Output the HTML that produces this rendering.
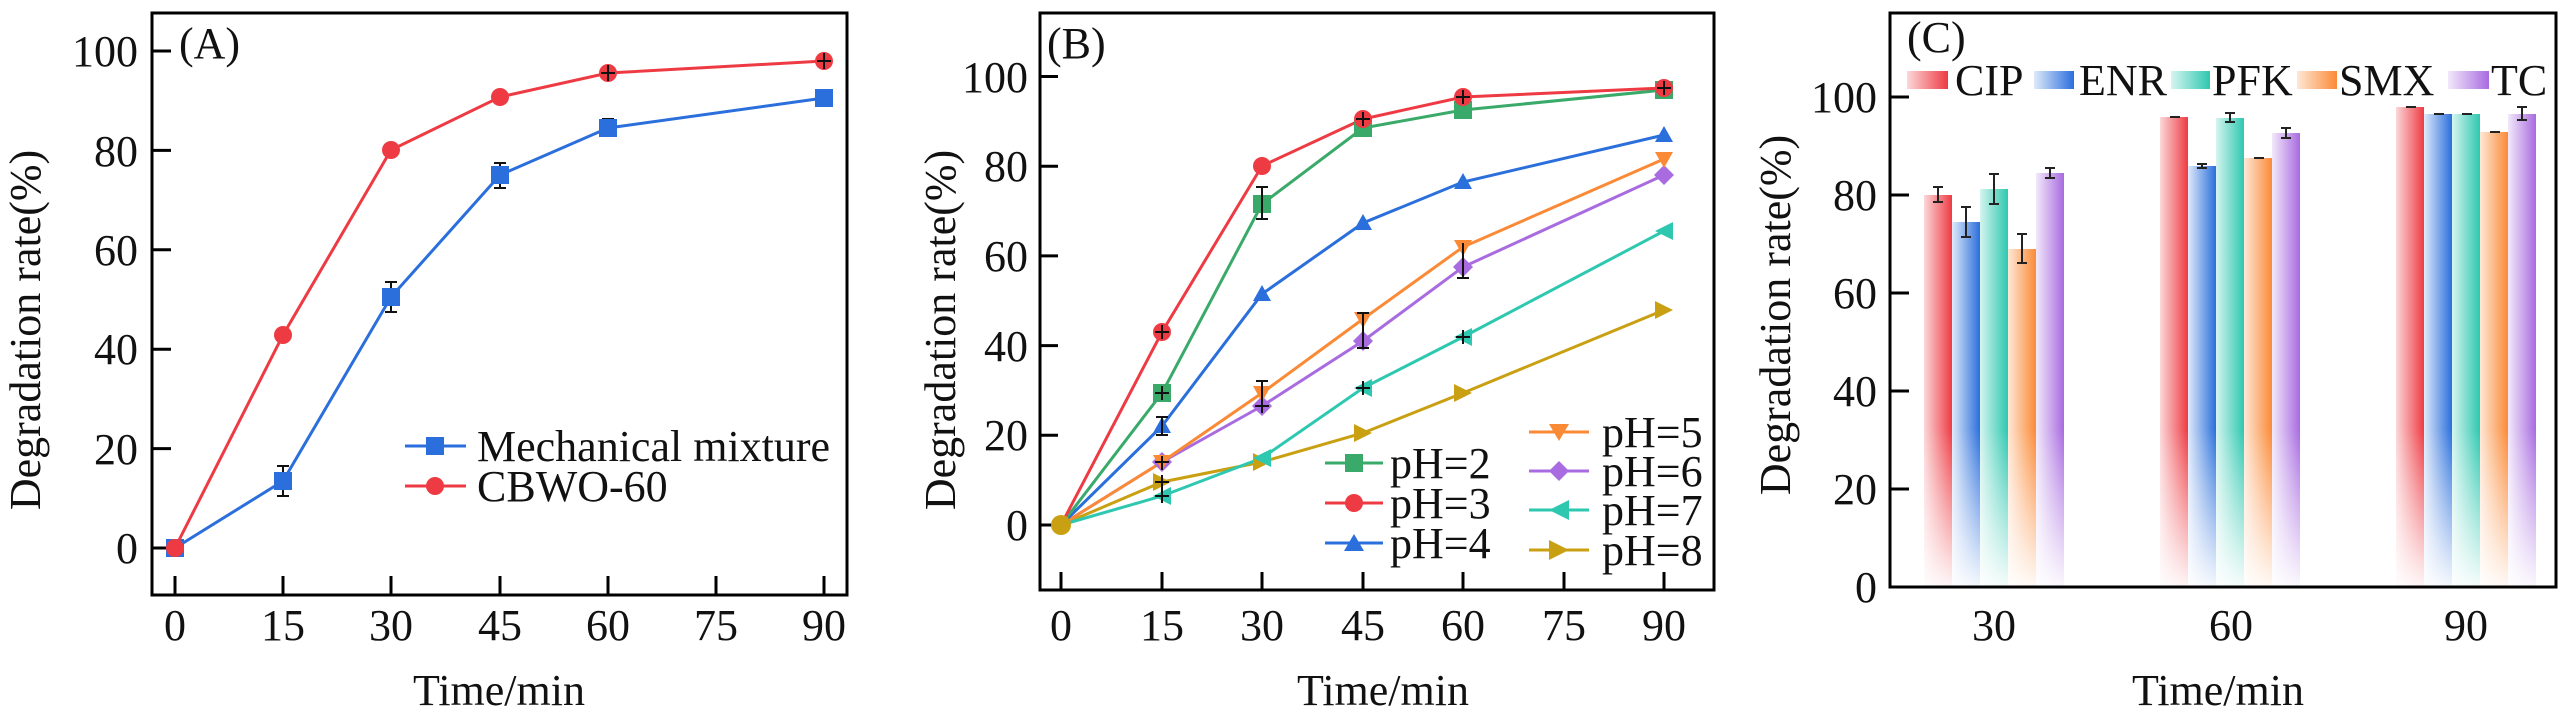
<!DOCTYPE html>
<html><head><meta charset="utf-8"><style>
html,body{margin:0;padding:0;background:#fff}
svg{display:block}
text{font-family:"Liberation Serif",serif;fill:#111}
</style></head><body>
<svg width="2567" height="724" viewBox="0 0 2567 724" xmlns="http://www.w3.org/2000/svg">
<defs>
<linearGradient id="fadeV" x1="0" y1="0" x2="0" y2="1"><stop offset="0.45" stop-color="#fff" stop-opacity="0"/><stop offset="1" stop-color="#fff" stop-opacity="0.95"/></linearGradient>
<linearGradient id="gCIP" x1="0" x2="1"><stop offset="0" stop-color="#ee3b43" stop-opacity="0.2"/><stop offset="1" stop-color="#ee3b43"/></linearGradient>
<linearGradient id="gENR" x1="0" x2="1"><stop offset="0" stop-color="#2a6fdc" stop-opacity="0.15"/><stop offset="1" stop-color="#2a6fdc"/></linearGradient>
<linearGradient id="gPFK" x1="0" x2="1"><stop offset="0" stop-color="#2ec8b0" stop-opacity="0.2"/><stop offset="1" stop-color="#2ec8b0"/></linearGradient>
<linearGradient id="gSMX" x1="0" x2="1"><stop offset="0" stop-color="#fb8a36" stop-opacity="0.2"/><stop offset="1" stop-color="#fb8a36"/></linearGradient>
<linearGradient id="gTC" x1="0" x2="1"><stop offset="0" stop-color="#a86be0" stop-opacity="0.15"/><stop offset="1" stop-color="#a86be0"/></linearGradient>
</defs>

<!-- ===== Panel A ===== -->
<g font-size="44">
<rect x="152" y="13" width="695" height="582" fill="none" stroke="#000" stroke-width="3"/>
<g stroke="#000" stroke-width="3">
<line x1="152" y1="548" x2="171" y2="548"/><line x1="152" y1="448.6" x2="171" y2="448.6"/><line x1="152" y1="349.2" x2="171" y2="349.2"/><line x1="152" y1="249.8" x2="171" y2="249.8"/><line x1="152" y1="150.4" x2="171" y2="150.4"/><line x1="152" y1="51" x2="171" y2="51"/>
<line x1="175" y1="595" x2="175" y2="576"/><line x1="283" y1="595" x2="283" y2="576"/><line x1="391" y1="595" x2="391" y2="576"/><line x1="500" y1="595" x2="500" y2="576"/><line x1="608" y1="595" x2="608" y2="576"/><line x1="716" y1="595" x2="716" y2="576"/><line x1="824" y1="595" x2="824" y2="576"/>
</g>
<g text-anchor="end"><text x="138" y="563">0</text><text x="138" y="464">20</text><text x="138" y="364">40</text><text x="138" y="265">60</text><text x="138" y="166">80</text><text x="138" y="66">100</text></g>
<g text-anchor="middle"><text x="175" y="640">0</text><text x="283" y="640">15</text><text x="391" y="640">30</text><text x="500" y="640">45</text><text x="608" y="640">60</text><text x="716" y="640">75</text><text x="824" y="640">90</text>
<text x="499" y="705">Time/min</text>
<text transform="translate(40,330) rotate(-90)">Degradation rate(%)</text></g>
<text x="179" y="58">(A)</text>
<g stroke="#111" stroke-width="2">
<line x1="283" y1="466" x2="283" y2="496"/><line x1="277" y1="466" x2="289" y2="466"/><line x1="277" y1="496" x2="289" y2="496"/>
<line x1="391" y1="282" x2="391" y2="312"/><line x1="385" y1="282" x2="397" y2="282"/><line x1="385" y1="312" x2="397" y2="312"/>
<line x1="500" y1="163" x2="500" y2="188"/><line x1="494" y1="163" x2="506" y2="163"/><line x1="494" y1="188" x2="506" y2="188"/>
<line x1="608" y1="119" x2="608" y2="134"/><line x1="602" y1="119" x2="614" y2="119"/><line x1="602" y1="134" x2="614" y2="134"/>
</g>
<polyline points="175,548 283,481 391,297 500,175 608,128 824,98" fill="none" stroke="#2a6fdc" stroke-width="3"/>
<g fill="#2a6fdc"><rect x="166" y="539" width="18" height="18"/><rect x="274" y="472" width="18" height="18"/><rect x="382" y="288" width="18" height="18"/><rect x="491" y="166" width="18" height="18"/><rect x="599" y="119" width="18" height="18"/><rect x="815" y="89" width="18" height="18"/></g>
<polyline points="175,548 283,335 391,150 500,97 608,73 824,61" fill="none" stroke="#ee3b43" stroke-width="3"/>
<g fill="#ee3b43"><circle cx="175" cy="548" r="9"/><circle cx="283" cy="335" r="9"/><circle cx="391" cy="150" r="9"/><circle cx="500" cy="97" r="9"/><circle cx="608" cy="73" r="9"/><circle cx="824" cy="61" r="9"/></g>
<g stroke="#111" stroke-width="2"><line x1="608" y1="65" x2="608" y2="81"/><line x1="601" y1="73" x2="615" y2="73"/><line x1="824" y1="53" x2="824" y2="69"/><line x1="817" y1="61" x2="831" y2="61"/></g>
<line x1="405" y1="446" x2="466" y2="446" stroke="#2a6fdc" stroke-width="3"/><rect x="426" y="437" width="18" height="18" fill="#2a6fdc"/>
<line x1="405" y1="486" x2="466" y2="486" stroke="#ee3b43" stroke-width="3"/><circle cx="435" cy="486" r="9" fill="#ee3b43"/>
<text x="477" y="461">Mechanical mixture</text><text x="477" y="501">CBWO-60</text>
</g>

<!-- ===== Panel B ===== -->
<g font-size="44">
<rect x="1040" y="13" width="674" height="577" fill="none" stroke="#000" stroke-width="3"/>
<g stroke="#000" stroke-width="3">
<line x1="1040" y1="525" x2="1058" y2="525"/><line x1="1040" y1="435.3" x2="1058" y2="435.3"/><line x1="1040" y1="345.6" x2="1058" y2="345.6"/><line x1="1040" y1="255.9" x2="1058" y2="255.9"/><line x1="1040" y1="166.2" x2="1058" y2="166.2"/><line x1="1040" y1="76.5" x2="1058" y2="76.5"/>
<line x1="1061" y1="590" x2="1061" y2="572"/><line x1="1162" y1="590" x2="1162" y2="572"/><line x1="1262" y1="590" x2="1262" y2="572"/><line x1="1363" y1="590" x2="1363" y2="572"/><line x1="1463" y1="590" x2="1463" y2="572"/><line x1="1564" y1="590" x2="1564" y2="572"/><line x1="1664" y1="590" x2="1664" y2="572"/>
</g>
<g text-anchor="end"><text x="1028" y="540">0</text><text x="1028" y="450">20</text><text x="1028" y="361">40</text><text x="1028" y="271">60</text><text x="1028" y="181">80</text><text x="1028" y="92">100</text></g>
<g text-anchor="middle"><text x="1061" y="640">0</text><text x="1162" y="640">15</text><text x="1262" y="640">30</text><text x="1363" y="640">45</text><text x="1463" y="640">60</text><text x="1564" y="640">75</text><text x="1664" y="640">90</text>
<text x="1383" y="705">Time/min</text>
<text transform="translate(955,330) rotate(-90)">Degradation rate(%)</text></g>
<text x="1047" y="58">(B)</text>
<g fill="none" stroke-width="3">
<polyline stroke="#c9a012" points="1061,525 1162,482 1262,462 1363,433 1463,393 1664,310"/>
<polyline stroke="#2ec8b0" points="1061,525 1162,496 1262,458 1363,388 1463,337 1664,231"/>
<polyline stroke="#a86be0" points="1061,525 1162,462 1262,406 1363,341 1463,267 1664,175"/>
<polyline stroke="#fb8a36" points="1061,525 1162,462 1262,393 1363,319 1463,247 1664,159"/>
<polyline stroke="#2a6fdc" points="1061,525 1162,426 1262,294 1363,223 1463,182 1664,135"/>
<polyline stroke="#3aaa6a" points="1061,525 1162,393 1262,204 1363,128 1463,110 1664,90"/>
<polyline stroke="#ee3b43" points="1061,525 1162,332 1262,166 1363,119 1463,97 1664,88"/>
</g>
<g fill="#c9a012"><path d="M1153,473 L1171,482 L1153,491Z"/><path d="M1253,453 L1271,462 L1253,471Z"/><path d="M1354,424 L1372,433 L1354,442Z"/><path d="M1454,384 L1472,393 L1454,402Z"/><path d="M1655,301 L1673,310 L1655,319Z"/></g>
<g fill="#2ec8b0"><path d="M1171,487 L1153,496 L1171,505Z"/><path d="M1271,449 L1253,458 L1271,467Z"/><path d="M1372,379 L1354,388 L1372,397Z"/><path d="M1472,328 L1454,337 L1472,346Z"/><path d="M1673,222 L1655,231 L1673,240Z"/></g>
<g fill="#a86be0"><path d="M1162,452 L1172,462 L1162,472 L1152,462Z"/><path d="M1262,396 L1272,406 L1262,416 L1252,406Z"/><path d="M1363,331 L1373,341 L1363,351 L1353,341Z"/><path d="M1463,257 L1473,267 L1463,277 L1453,267Z"/><path d="M1664,165 L1674,175 L1664,185 L1654,175Z"/></g>
<g fill="#fb8a36"><path d="M1153,455 L1171,455 L1162,471Z"/><path d="M1253,386 L1271,386 L1262,402Z"/><path d="M1354,312 L1372,312 L1363,328Z"/><path d="M1454,240 L1472,240 L1463,256Z"/><path d="M1655,152 L1673,152 L1664,168Z"/></g>
<g fill="#2a6fdc"><path d="M1153,433 L1171,433 L1162,417Z"/><path d="M1253,301 L1271,301 L1262,285Z"/><path d="M1354,230 L1372,230 L1363,214Z"/><path d="M1454,189 L1472,189 L1463,173Z"/><path d="M1655,142 L1673,142 L1664,126Z"/></g>
<g fill="#3aaa6a"><rect x="1153" y="384" width="18" height="18"/><rect x="1253" y="195" width="18" height="18"/><rect x="1354" y="119" width="18" height="18"/><rect x="1454" y="101" width="18" height="18"/><rect x="1655" y="81" width="18" height="18"/></g>
<g fill="#ee3b43"><circle cx="1162" cy="332" r="9"/><circle cx="1262" cy="166" r="9"/><circle cx="1363" cy="119" r="9"/><circle cx="1463" cy="97" r="9"/><circle cx="1664" cy="88" r="9"/></g>
<circle cx="1061" cy="525" r="10" fill="#c9a012"/>
<g stroke="#111" stroke-width="2" fill="none">
<path d="M1262,187 v32 M1256,187 h12 M1256,219 h12"/>
<path d="M1162,417 v18 M1156,417 h12 M1156,435 h12"/>
<path d="M1262,381 v22 M1256,381 h12"/>
<path d="M1363,313 v35 M1357,313 h12 M1357,348 h12"/>
<path d="M1463,243 v35 M1457,278 h12"/>
<path d="M1162,325 v14 M1155,332 h14 M1162,386 v14 M1155,393 h14 M1363,112 v14 M1356,119 h14 M1463,90 v14 M1456,97 h14 M1664,81 v14 M1657,88 h14"/>
<path d="M1162,456 v14 M1155,462 h14 M1162,475 v14 M1155,482 h14 M1162,489 v14 M1155,496 h14 M1363,381 v14 M1356,388 h14 M1463,330 v14 M1456,337 h14 M1262,399 v14 M1255,406 h14"/>
</g>
<g stroke-width="3"><line x1="1325" y1="463" x2="1383" y2="463" stroke="#3aaa6a"/><line x1="1325" y1="503" x2="1383" y2="503" stroke="#ee3b43"/><line x1="1325" y1="543" x2="1383" y2="543" stroke="#2a6fdc"/>
<line x1="1529" y1="432" x2="1589" y2="432" stroke="#fb8a36"/><line x1="1529" y1="471" x2="1589" y2="471" stroke="#a86be0"/><line x1="1529" y1="510" x2="1589" y2="510" stroke="#2ec8b0"/><line x1="1529" y1="550" x2="1589" y2="550" stroke="#c9a012"/></g>
<rect x="1345" y="454" width="18" height="18" fill="#3aaa6a"/><circle cx="1354" cy="503" r="9" fill="#ee3b43"/><path d="M1344,551 L1364,551 L1354,534Z" fill="#2a6fdc"/>
<path d="M1549,424 L1569,424 L1559,441Z" fill="#fb8a36"/><path d="M1559,461 L1569,471 L1559,481 L1549,471Z" fill="#a86be0"/><path d="M1569,500 L1549,510 L1569,520Z" fill="#2ec8b0"/><path d="M1549,540 L1569,550 L1549,560Z" fill="#c9a012"/>
<text x="1390" y="478">pH=2</text><text x="1390" y="518">pH=3</text><text x="1390" y="558">pH=4</text>
<text x="1602" y="447">pH=5</text><text x="1602" y="486">pH=6</text><text x="1602" y="525">pH=7</text><text x="1602" y="565">pH=8</text>
</g>

<!-- ===== Panel C ===== -->
<g font-size="44">
<rect x="1924" y="195" width="28" height="392" fill="url(#gCIP)"/>
<rect x="1952" y="222" width="28" height="365" fill="url(#gENR)"/>
<rect x="1980" y="189" width="28" height="398" fill="url(#gPFK)"/>
<rect x="2008" y="249" width="28" height="338" fill="url(#gSMX)"/>
<rect x="2036" y="173" width="28" height="414" fill="url(#gTC)"/>
<rect x="2160" y="117" width="28" height="470" fill="url(#gCIP)"/>
<rect x="2188" y="166" width="28" height="421" fill="url(#gENR)"/>
<rect x="2216" y="118" width="28" height="469" fill="url(#gPFK)"/>
<rect x="2244" y="158" width="28" height="429" fill="url(#gSMX)"/>
<rect x="2272" y="133" width="28" height="454" fill="url(#gTC)"/>
<rect x="2396" y="107" width="28" height="480" fill="url(#gCIP)"/>
<rect x="2424" y="114" width="28" height="473" fill="url(#gENR)"/>
<rect x="2452" y="114" width="28" height="473" fill="url(#gPFK)"/>
<rect x="2480" y="132" width="28" height="455" fill="url(#gSMX)"/>
<rect x="2508" y="114" width="28" height="473" fill="url(#gTC)"/>
<rect x="1890" y="300" width="666" height="287" fill="url(#fadeV)"/>
<g stroke="#222" stroke-width="2" fill="none">
<path d="M1938,187 v15 M1933,187 h10 M1933,202 h10"/>
<path d="M1966,207 v30 M1961,207 h10 M1961,237 h10"/>
<path d="M1994,174 v30 M1989,174 h10 M1989,204 h10"/>
<path d="M2022,234 v29 M2017,234 h10 M2017,263 h10"/>
<path d="M2050,168 v10 M2045,168 h10 M2045,178 h10"/>
<path d="M2202,164 v4 M2197,164 h10 M2197,168 h10"/>
<path d="M2230,113 v9 M2225,113 h10 M2225,122 h10"/>
<path d="M2286,128 v10 M2281,128 h10 M2281,138 h10"/>
<path d="M2522,107 v13 M2517,107 h10 M2517,120 h10"/>
<path d="M2170,117 h10 M2254,158 h10 M2406,107 h10 M2434,114 h10 M2462,114 h10 M2490,132 h10"/>
</g>
<rect x="1890" y="13" width="666" height="574" fill="none" stroke="#000" stroke-width="3"/>
<g stroke="#000" stroke-width="3">
<line x1="1890" y1="489" x2="1909" y2="489"/><line x1="1890" y1="391" x2="1909" y2="391"/><line x1="1890" y1="293" x2="1909" y2="293"/><line x1="1890" y1="195" x2="1909" y2="195"/><line x1="1890" y1="97" x2="1909" y2="97"/>
</g>
<g text-anchor="end"><text x="1877" y="602">0</text><text x="1877" y="504">20</text><text x="1877" y="406">40</text><text x="1877" y="308">60</text><text x="1877" y="210">80</text><text x="1877" y="112">100</text></g>
<g text-anchor="middle"><text x="1994" y="640">30</text><text x="2231" y="640">60</text><text x="2466" y="640">90</text>
<text x="2218" y="705">Time/min</text>
<text transform="translate(1790,315) rotate(-90)">Degradation rate(%)</text></g>
<text x="1907" y="52">(C)</text>
<rect x="1907" y="71" width="41" height="18" fill="url(#gCIP)"/>
<rect x="2034" y="71" width="40" height="18" fill="url(#gENR)"/>
<rect x="2171" y="71" width="39" height="18" fill="url(#gPFK)"/>
<rect x="2297" y="71" width="40" height="18" fill="url(#gSMX)"/>
<rect x="2448" y="71" width="41" height="18" fill="url(#gTC)"/>
<text x="1955" y="95">CIP</text><text x="2079" y="95">ENR</text><text x="2212" y="95">PFK</text><text x="2339" y="95">SMX</text><text x="2491" y="95">TC</text>
</g>
</svg>
</body></html>
